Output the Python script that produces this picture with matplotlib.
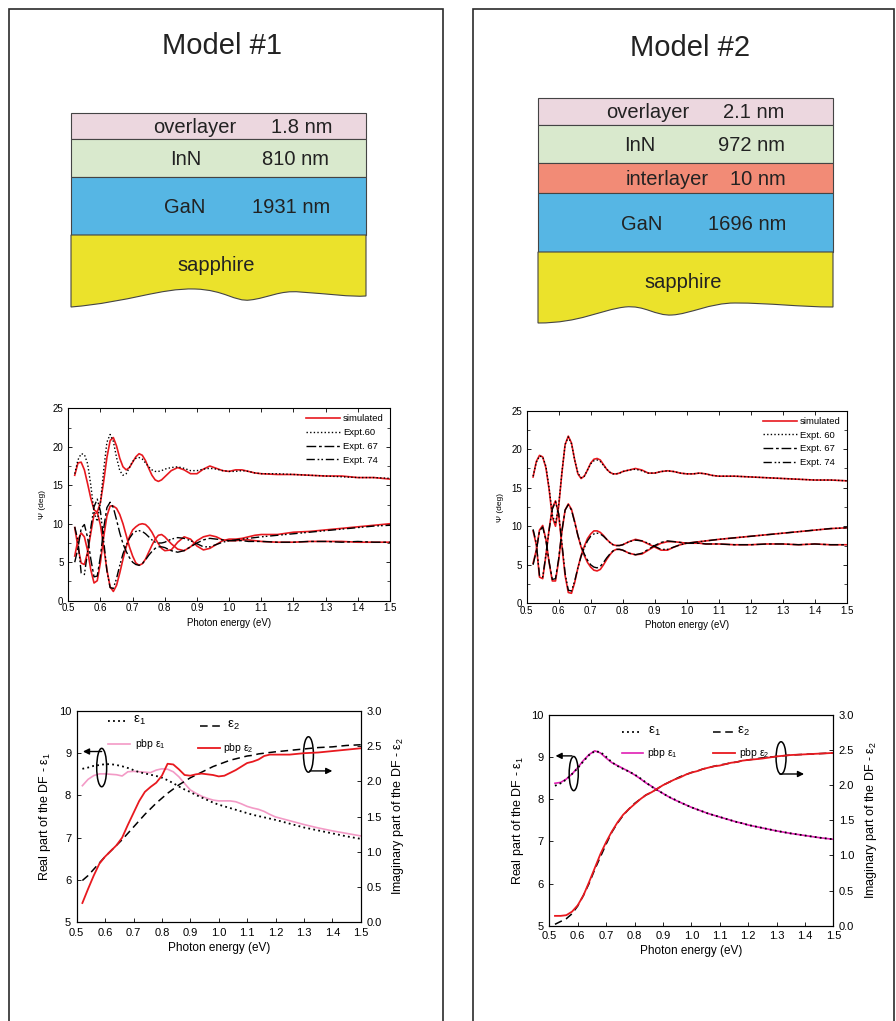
import numpy as np
import matplotlib
matplotlib.use('Agg')
import matplotlib.pyplot as plt
from matplotlib.patches import Rectangle, Ellipse, PathPatch
from matplotlib.path import Path

plt.rcParams['font.family'] = ['Liberation Sans', 'DejaVu Sans']
plt.rcParams['mathtext.fontset'] = 'custom'
plt.rcParams['mathtext.rm'] = 'Liberation Sans'
plt.rcParams['mathtext.it'] = 'Liberation Sans:italic'

# ---------------- data ----------------
# layer stacks
M1_LAYERS = ['overlayer', 'InN', 'GaN', 'sapphire']
M1_THICK = ['1.8 nm', '810 nm', '1931 nm', '']
M1_COLORS = ['#ecd7df', '#d9e9cd', '#56b6e4', '#ebe22b']
M2_LAYERS = ['overlayer', 'InN', 'interlayer', 'GaN', 'sapphire']
M2_THICK = ['2.1 nm', '972 nm', '10 nm', '1696 nm', '']
M2_COLORS = ['#ecd7df', '#d9e9cd', '#f28b76', '#56b6e4', '#ebe22b']

# ellipsometric angle Psi (deg)
E_PSI = [0.52, 0.53, 0.54, 0.55, 0.56, 0.57, 0.58, 0.59, 0.60, 0.61,
         0.62, 0.63, 0.64, 0.65, 0.66, 0.67, 0.68, 0.69, 0.70, 0.71,
         0.72, 0.73, 0.74, 0.75, 0.76, 0.77, 0.78, 0.79, 0.80,
         0.82, 0.84, 0.86, 0.88, 0.90, 0.92, 0.94, 0.96, 0.98, 1.00,
         1.02, 1.04, 1.06, 1.08, 1.10,
         1.15, 1.20, 1.25, 1.30, 1.35, 1.40, 1.45, 1.50]
EXP_60 = [16.5, 18.3, 19.1, 19.0, 17.8, 15.0, 11.5, 10.3, 12.8, 17.0,
          20.6, 21.6, 20.7, 18.6, 16.9, 16.3, 16.5, 17.3, 18.1, 18.5,
          18.6, 18.4, 17.9, 17.4, 17.0, 16.8, 16.8, 16.9, 17.1,
          17.3, 17.4, 17.2, 16.9, 16.9, 17.1, 17.2, 17.1, 16.9, 16.8,
          16.8, 16.9, 16.8, 16.6, 16.5,
          16.5, 16.4, 16.3, 16.2, 16.1, 16.0, 16.0, 15.9]
EXP_67 = [5.0, 6.8, 9.4, 9.9, 8.2, 5.4, 3.1, 3.2, 5.8, 9.4,
          12.1, 12.8, 12.1, 10.5, 8.8, 7.4, 6.4, 5.6, 5.0, 4.7,
          4.6, 4.8, 5.3, 5.9, 6.4, 6.8, 7.0, 7.0, 6.9,
          6.5, 6.3, 6.5, 7.0, 7.5, 7.9, 8.1, 8.0, 7.9, 7.8,
          7.8, 7.8, 7.7, 7.7, 7.7,
          7.6, 7.6, 7.7, 7.7, 7.6, 7.7, 7.6, 7.6]
EXP_74 = [9.6, 7.8, 3.6, 3.4, 6.3, 9.5, 12.2, 13.2, 11.6, 7.8,
          3.9, 1.7, 1.6, 2.9, 4.6, 6.1, 7.2, 8.1, 8.7, 9.0,
          9.1, 9.0, 8.7, 8.3, 7.9, 7.6, 7.5, 7.5, 7.6,
          8.0, 8.2, 8.1, 7.8, 7.4, 7.0, 7.0, 7.3, 7.6, 7.8,
          7.9, 8.0, 8.1, 8.2, 8.3,
          8.5, 8.7, 8.9, 9.1, 9.3, 9.5, 9.7, 9.8]
M1_SIM_60 = [16.3, 17.9, 18.0, 17.0, 15.2, 13.3, 11.8, 11.5, 12.8, 15.5,
             18.6, 20.8, 21.2, 20.1, 18.5, 17.4, 17.0, 17.3, 18.0, 18.7,
             19.1, 18.9, 18.2, 17.2, 16.3, 15.7, 15.5, 15.7, 16.1,
             16.9, 17.3, 17.0, 16.5, 16.5, 17.1, 17.5, 17.2, 16.9, 16.8,
             17.0, 17.0, 16.8, 16.6, 16.5,
             16.4, 16.4, 16.3, 16.2, 16.2, 16.0, 16.0, 15.8]
M1_SIM_67 = [5.8, 7.9, 8.8, 8.3, 6.5, 4.0, 2.3, 2.6, 5.0, 8.3,
             11.0, 12.3, 12.3, 12.0, 11.2, 10.0, 8.5, 7.0, 5.8, 4.9,
             4.6, 4.8, 5.4, 6.3, 7.2, 8.0, 8.5, 8.6, 8.3,
             7.4, 6.7, 6.5, 7.0, 7.8, 8.3, 8.5, 8.3, 7.9, 7.8,
             7.8, 7.9, 7.9, 7.8, 7.7,
             7.6, 7.6, 7.7, 7.7, 7.7, 7.6, 7.6, 7.6]
M1_SIM_74 = [9.5, 7.0, 4.9, 4.7, 6.3, 8.8, 11.2, 11.5, 9.8, 7.0,
             4.0, 1.8, 1.2, 2.0, 3.6, 5.4, 7.0, 8.3, 9.2, 9.6,
             9.9, 10.0, 9.9, 9.5, 8.9, 8.1, 7.4, 6.8, 6.5,
             6.6, 7.6, 8.3, 8.0, 7.1, 6.6, 6.8, 7.3, 7.8, 8.0,
             8.0, 8.1, 8.3, 8.5, 8.6,
             8.6, 8.9, 9.0, 9.2, 9.4, 9.6, 9.8, 10.0]
M2_SIM_60 = [16.4, 18.4, 19.2, 19.0, 17.6, 14.8, 11.2, 10.0, 12.6, 16.9,
             20.6, 21.7, 20.8, 18.6, 16.8, 16.2, 16.5, 17.3, 18.2, 18.7,
             18.8, 18.6, 18.0, 17.4, 17.0, 16.8, 16.8, 16.9, 17.1,
             17.3, 17.5, 17.3, 16.9, 16.9, 17.1, 17.2, 17.1, 16.9, 16.8,
             16.8, 16.9, 16.8, 16.6, 16.5,
             16.5, 16.4, 16.3, 16.2, 16.1, 16.0, 16.0, 15.9]
M2_SIM_67 = [5.2, 6.9, 9.5, 10.1, 8.3, 5.3, 2.9, 2.9, 5.6, 9.3,
             12.1, 12.9, 12.2, 10.6, 8.8, 7.3, 6.2, 5.3, 4.7, 4.3,
             4.2, 4.4, 5.0, 5.7, 6.3, 6.8, 7.0, 7.0, 6.9,
             6.5, 6.3, 6.4, 6.9, 7.4, 7.8, 8.0, 8.0, 7.9, 7.8,
             7.8, 7.8, 7.7, 7.7, 7.7,
             7.6, 7.6, 7.7, 7.7, 7.6, 7.7, 7.6, 7.6]
M2_SIM_74 = [9.4, 7.6, 3.4, 3.2, 6.2, 9.6, 12.4, 13.3, 11.5, 7.5,
             3.6, 1.4, 1.3, 2.7, 4.6, 6.2, 7.4, 8.4, 9.0, 9.4,
             9.4, 9.2, 8.8, 8.3, 7.9, 7.6, 7.5, 7.5, 7.6,
             8.0, 8.3, 8.1, 7.7, 7.3, 6.9, 6.9, 7.3, 7.6, 7.8,
             7.9, 8.0, 8.1, 8.2, 8.3,
             8.5, 8.7, 8.9, 9.1, 9.3, 9.5, 9.7, 9.8]

# dielectric function
E_DF = [0.52, 0.54, 0.56, 0.58, 0.60, 0.62, 0.64, 0.66, 0.68, 0.70,
        0.72, 0.74, 0.76, 0.78, 0.80, 0.82, 0.84, 0.86, 0.88, 0.90,
        0.92, 0.94, 0.96, 0.98, 1.00, 1.02, 1.04, 1.06, 1.08, 1.10,
        1.12, 1.14, 1.16, 1.18, 1.20, 1.25, 1.30, 1.35, 1.40, 1.45, 1.50]
M1_EPS1 = [8.63, 8.66, 8.70, 8.72, 8.74, 8.74, 8.72, 8.69, 8.65, 8.60,
           8.55, 8.52, 8.49, 8.46, 8.42, 8.36, 8.29, 8.21, 8.14, 8.08,
           8.01, 7.95, 7.89, 7.83, 7.78, 7.74, 7.70, 7.66, 7.62, 7.58,
           7.54, 7.51, 7.48, 7.45, 7.42, 7.33, 7.24, 7.17, 7.10, 7.03, 6.97]
M1_PBP1 = [8.23, 8.38, 8.47, 8.51, 8.51, 8.50, 8.49, 8.46, 8.56, 8.57,
           8.56, 8.55, 8.54, 8.60, 8.63, 8.62, 8.56, 8.44, 8.28, 8.13,
           8.05, 7.98, 7.93, 7.89, 7.87, 7.87, 7.87, 7.85, 7.80, 7.74,
           7.70, 7.67, 7.62, 7.55, 7.49, 7.40, 7.31, 7.23, 7.16, 7.10, 7.04]
M1_EPS2 = [0.59, 0.66, 0.75, 0.84, 0.93, 1.01, 1.09, 1.17, 1.26, 1.35,
           1.44, 1.53, 1.61, 1.69, 1.76, 1.83, 1.89, 1.95, 2.00, 2.05,
           2.09, 2.13, 2.17, 2.21, 2.24, 2.27, 2.30, 2.32, 2.34, 2.36,
           2.37, 2.39, 2.40, 2.41, 2.42, 2.44, 2.46, 2.48, 2.49, 2.51, 2.52]
M1_PBP2 = [0.27, 0.47, 0.66, 0.83, 0.93, 1.01, 1.09, 1.20, 1.38, 1.55,
           1.72, 1.85, 1.92, 1.98, 2.08, 2.25, 2.24, 2.17, 2.09, 2.08,
           2.10, 2.11, 2.10, 2.09, 2.07, 2.08, 2.12, 2.16, 2.21, 2.26,
           2.28, 2.31, 2.36, 2.38, 2.38, 2.38, 2.40, 2.41, 2.43, 2.45, 2.47]
M2_EPS1 = [8.32, 8.38, 8.47, 8.60, 8.74, 8.90, 9.05, 9.14, 9.12, 9.01,
           8.88, 8.79, 8.72, 8.66, 8.59, 8.50, 8.40, 8.30, 8.22, 8.14,
           8.06, 8.00, 7.93, 7.87, 7.81, 7.76, 7.71, 7.66, 7.62, 7.58,
           7.54, 7.50, 7.46, 7.43, 7.39, 7.32, 7.25, 7.19, 7.14, 7.09, 7.05]
M2_PBP1 = [8.38, 8.40, 8.48, 8.60, 8.75, 8.92, 9.06, 9.15, 9.10, 8.98,
           8.87, 8.80, 8.73, 8.66, 8.58, 8.49, 8.39, 8.31, 8.22, 8.14,
           8.06, 7.99, 7.93, 7.87, 7.81, 7.76, 7.71, 7.66, 7.62, 7.58,
           7.54, 7.50, 7.46, 7.43, 7.39, 7.32, 7.25, 7.19, 7.14, 7.09, 7.05]
M2_EPS2 = [0.02, 0.06, 0.10, 0.17, 0.28, 0.43, 0.60, 0.80, 0.98, 1.16,
           1.33, 1.46, 1.57, 1.66, 1.74, 1.80, 1.86, 1.90, 1.95, 2.00,
           2.04, 2.08, 2.12, 2.15, 2.18, 2.20, 2.23, 2.25, 2.27, 2.29,
           2.30, 2.32, 2.33, 2.35, 2.36, 2.39, 2.41, 2.43, 2.44, 2.45, 2.46]
M2_PBP2 = [0.14, 0.14, 0.15, 0.20, 0.29, 0.43, 0.62, 0.82, 1.02, 1.19,
           1.34, 1.47, 1.58, 1.66, 1.73, 1.80, 1.86, 1.90, 1.95, 2.00,
           2.04, 2.08, 2.11, 2.15, 2.18, 2.20, 2.23, 2.25, 2.27, 2.28,
           2.30, 2.32, 2.33, 2.35, 2.36, 2.38, 2.41, 2.43, 2.44, 2.45, 2.46]

RED = '#e8191f'
W, H = 896, 1021
fig = plt.figure(figsize=(W / 100, H / 100), dpi=100)

# ---------------- frames, titles, layer stacks (pixel coords) ----------------
bg = fig.add_axes([0, 0, 1, 1])
bg.set_xlim(0, W)
bg.set_ylim(H, 0)
bg.axis('off')
for xl, xr in [(8.5, 442.5), (472.5, 893.5)]:
    bg.plot([xl, xl, xr, xr], [H, 9, 9, H], color='#2b2b2b', lw=1.2,
            solid_joinstyle='miter')
bg.text(222, 46, 'Model #1', fontsize=21, ha='center', va='center', color='#222')
bg.text(690, 48, 'Model #2', fontsize=21, ha='center', va='center', color='#222')


def draw_stack(x0, x1, edges, names, thick, colors, name_x, thick_x, sap_y, wave):
    for i in range(len(names) - 1):
        bg.add_patch(Rectangle((x0, edges[i]), x1 - x0, edges[i + 1] - edges[i],
                               fc=colors[i], ec='#444', lw=0.8))
        yc = (edges[i] + edges[i + 1]) / 2 + 1.5
        bg.text(name_x[i], yc, names[i], fontsize=14.5, ha='center', va='center',
                color='#222')
        bg.text(thick_x[i], yc, thick[i], fontsize=14.5, ha='center', va='center',
                color='#222')
    verts = [(x0, edges[-1]), (x0, wave[0][1])] + wave[1:] + [(x1, edges[-1]), (x0, edges[-1])]
    codes = ([Path.MOVETO, Path.LINETO] + [Path.CURVE4] * (len(wave) - 1)
             + [Path.LINETO, Path.CLOSEPOLY])
    bg.add_patch(PathPatch(Path(verts, codes), fc=colors[-1], ec='#444', lw=0.8))
    bg.text(name_x[-1], sap_y, names[-1], fontsize=14.5, ha='center', va='center',
            color='#222')


draw_stack(71, 366, [113, 139, 177, 235], M1_LAYERS, M1_THICK, M1_COLORS,
           [195, 186, 185, 216], [302, 296, 291], 265,
           [(71, 307), (130, 302), (160, 288), (195, 289),
            (225, 290), (235, 302), (250, 300),
            (268, 298), (280, 290), (300, 292),
            (330, 294), (350, 297), (366, 296)])
draw_stack(538, 833, [98, 125, 163, 193, 252], M2_LAYERS, M2_THICK, M2_COLORS,
           [648, 640, 667, 642, 683], [754, 751, 758, 747], 282,
           [(538, 323), (580, 323), (600, 310), (625, 307),
            (645, 305), (655, 316), (672, 315),
            (690, 314), (710, 303), (735, 303),
            (770, 303), (800, 307), (833, 307)])


def frac(x0, y0, x1, y1):
    return [x0 / W, 1 - y1 / H, (x1 - x0) / W, (y1 - y0) / H]


# ---------------- Psi panels ----------------
EXP_STYLES = [(0, (1, 1.6)), (0, (7, 2, 2, 2)), (0, (6, 2, 1.2, 1.5, 1.2, 2))]


def psi_panel(rect, sims, exps, labels):
    ax = fig.add_axes(rect)
    for i, y in enumerate(sims):
        ax.plot(E_PSI, y, color=RED, lw=1.2, label='simulated' if i == 0 else None)
    for y, ls, lab in zip(exps, EXP_STYLES, labels):
        ax.plot(E_PSI, y, color='k', ls=ls, lw=1.0, label=lab)
    ax.set_xlim(0.5, 1.5)
    ax.set_ylim(0, 25)
    ax.set_xticks(np.round(np.arange(0.5, 1.51, 0.1), 1))
    ax.set_yticks(range(0, 26, 5))
    ax.set_yticks(np.arange(2.5, 25, 5), minor=True)
    ax.tick_params(direction='in', top=True, right=True, labelsize=7,
                   length=3, width=0.6)
    ax.tick_params(axis='x', pad=2)
    ax.tick_params(axis='y', pad=3.5)
    ax.tick_params(which='minor', direction='in', right=True, length=2, width=0.5)
    for s in ax.spines.values():
        s.set_linewidth(0.8)
    ax.set_xlabel('Photon energy (eV)', fontsize=7, labelpad=3)
    ax.set_ylabel('Ψ (deg)', fontsize=6, labelpad=5)
    ax.legend(loc='upper right', frameon=False, fontsize=6.8, handlelength=3.6,
              labelspacing=0.5, handletextpad=0.3, borderaxespad=0.25)
    return ax


psi_panel(frac(68.3, 408.3, 390, 600.7), [M1_SIM_60, M1_SIM_67, M1_SIM_74],
          [EXP_60, EXP_67, EXP_74], ['Expt.60', 'Expt. 67', 'Expt. 74'])
psi_panel(frac(526.7, 410.7, 846.7, 603.3), [M2_SIM_60, M2_SIM_67, M2_SIM_74],
          [EXP_60, EXP_67, EXP_74], ['Expt. 60', 'Expt. 67', 'Expt. 74'])


# ---------------- dielectric function panels ----------------
def df_panel(rect, eps1, pbp1, eps2, pbp2, pink, leg, ell_l, ell_r):
    ax = fig.add_axes(rect)
    ax2 = ax.twinx()
    ax.plot(E_DF, pbp1, color=pink, lw=1.2)
    ax.plot(E_DF, eps1, color='k', ls=(0, (1, 1.8)), lw=1.3)
    ax2.plot(E_DF, eps2, color='k', ls=(0, (5, 3)), lw=1.1)
    ax2.plot(E_DF, pbp2, color=RED, lw=1.3)
    ax.set_xlim(0.5, 1.5)
    ax.set_ylim(5, 10)
    ax2.set_ylim(0, 3)
    ax.set_xticks(np.round(np.arange(0.5, 1.51, 0.1), 1))
    ax2.set_yticks(np.arange(0, 3.01, 0.5))
    ax2.set_yticklabels([f'{v:.1f}' for v in np.arange(0, 3.01, 0.5)])
    for a in (ax, ax2):
        a.tick_params(direction='in', labelsize=8, length=3, width=0.6, pad=4)
        for s in a.spines.values():
            s.set_linewidth(0.8)
    ax.set_xlabel('Photon energy (eV)', fontsize=8.5, labelpad=3)
    ax.set_ylabel(r'Real part of the DF - $\mathregular{\varepsilon_1}$', fontsize=9)
    ax2.set_ylabel(r'Imaginary part of the DF - $\mathregular{\varepsilon_2}$',
                   fontsize=9, labelpad=6)
    # legend drawn by hand (2 x 2 layout)
    styles = [dict(color='k', ls=(0, (1, 1.8)), lw=1.3), dict(color='k', ls=(0, (5, 3)), lw=1.1),
              dict(color=pink, lw=1.2), dict(color=RED, lw=1.3)]
    texts = [r'$\mathregular{\varepsilon_1}$', r'$\mathregular{\varepsilon_2}$',
             r'pbp $\mathregular{\varepsilon_1}$', r'pbp $\mathregular{\varepsilon_2}$']
    sizes = [9.5, 9.5, 7.5, 7.5]
    for (xa, xb, yl, xt), st, tx, fs in zip(leg, styles, texts, sizes):
        ax.plot([xa, xb], [yl, yl], transform=ax.transAxes, **st)
        ax.text(xt, yl, tx, transform=ax.transAxes, fontsize=fs, va='center')
    # axis markers: ellipse + arrow
    for (cx, cy, w, h), (x_from, x_to, ay) in (ell_l, ell_r):
        ax.add_patch(Ellipse((cx, cy), w, h, fill=False, ec='k', lw=1.1, zorder=5))
        ax.annotate('', xy=(x_to, ay), xytext=(x_from, ay),
                    arrowprops=dict(arrowstyle='-|>', color='k', lw=1.0,
                                    mutation_scale=9, shrinkA=0, shrinkB=0), zorder=5)
    return ax


df_panel(frac(76.7, 711, 360.7, 922), M1_EPS1, M1_PBP1, M1_EPS2, M1_PBP2, '#f39ac6',
         [(0.111, 0.176, 0.953, 0.197), (0.434, 0.516, 0.931, 0.528),
          (0.111, 0.188, 0.842, 0.205), (0.428, 0.505, 0.823, 0.516)],
         ((0.588, 8.66, 0.035, 0.91), (0.588, 0.522, 9.04)),
         ((1.316, 8.97, 0.035, 0.84), (1.32, 1.40, 8.58)))
df_panel(frac(549.3, 715, 833.3, 925.7), M2_EPS1, M2_PBP1, M2_EPS2, M2_PBP2, '#e01fb4',
         [(0.255, 0.325, 0.921, 0.349), (0.577, 0.66, 0.921, 0.662),
          (0.255, 0.331, 0.818, 0.343), (0.577, 0.654, 0.818, 0.669)],
         ((0.586, 8.61, 0.032, 0.81), (0.58, 0.522, 9.03)),
         ((1.316, 8.98, 0.035, 0.77), (1.312, 1.397, 8.60)))

fig.savefig('out.png', dpi=100)
